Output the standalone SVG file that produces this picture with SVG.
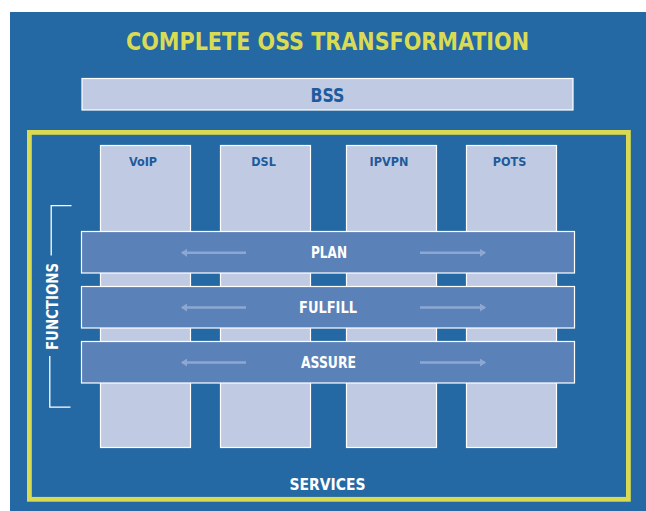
<svg xmlns="http://www.w3.org/2000/svg" width="646" height="511" viewBox="0 0 646 511">
<defs>
<style>
.bg{fill:#2469a4}
.frame{fill:none;stroke:#d9da52;stroke-width:4.8}
.col{fill:#c0cbe3;stroke:#ffffff;stroke-width:1.2}
.bar{fill:#5b82b8;stroke:#ffffff;stroke-width:1.2}
.bss{fill:#c0cbe3;stroke:#ffffff;stroke-width:1.2}
.title{font-family:"DejaVu Sans Condensed","Liberation Sans",sans-serif;font-weight:bold;font-size:24px;fill:#dadb55}
.dark{font-family:"DejaVu Sans Condensed","Liberation Sans",sans-serif;font-weight:bold;fill:#1d5b9c;text-anchor:middle}
.white{font-family:"DejaVu Sans Condensed","Liberation Sans",sans-serif;font-weight:bold;fill:#ffffff;text-anchor:middle}
.arr{stroke:#8ca7d2;stroke-width:2.6;fill:none}
.bracket{stroke:#ffffff;stroke-width:1.3;fill:none}
</style>
<marker id="ah" viewBox="0 0 6 8" refX="5" refY="4" markerWidth="6" markerHeight="8" markerUnits="userSpaceOnUse" orient="auto">
<path d="M0,0 L6,4 L0,8 Z" fill="#8ca7d2"/>
</marker>
</defs>
<rect class="bg" x="10" y="12" width="636" height="499"/>
<g id="title">
<text class="title" x="126" y="50" textLength="403" lengthAdjust="spacingAndGlyphs">COMPLETE OSS TRANSFORMATION</text>
</g>
<g id="bss">
<rect class="bss" x="82" y="78.5" width="491" height="31.5"/>
<text class="dark" x="327.5" y="102" font-size="19" textLength="34" lengthAdjust="spacingAndGlyphs">BSS</text>
</g>
<g id="services">
<rect class="frame" x="29.4" y="132.4" width="599" height="366.9"/>
<text class="white" x="327.5" y="490" font-size="15" textLength="76" lengthAdjust="spacingAndGlyphs">SERVICES</text>
</g>
<g id="col-voip">
<rect class="col" x="100.5" y="145.5" width="90" height="302"/>
<text class="dark" x="143" y="166" font-size="12.5">VoIP</text>
</g>
<g id="col-dsl">
<rect class="col" x="220.5" y="145.5" width="90" height="302"/>
<text class="dark" x="263.5" y="166" font-size="12.5">DSL</text>
</g>
<g id="col-ipvpn">
<rect class="col" x="346.5" y="145.5" width="90" height="302"/>
<text class="dark" x="389" y="166" font-size="12.5">IPVPN</text>
</g>
<g id="col-pots">
<rect class="col" x="466.5" y="145.5" width="90" height="302"/>
<text class="dark" x="509.5" y="166" font-size="12.5">POTS</text>
</g>
<g id="functions">
<path class="bracket" d="M71.5,205.7 H51.2 V255.5"/>
<path class="bracket" d="M49.8,356 V407.2 H70.5"/>
<text class="white" transform="translate(57.5,306.5) rotate(-90)" font-size="15" textLength="87" lengthAdjust="spacingAndGlyphs">FUNCTIONS</text>
</g>
<g id="plan">
<rect class="bar" x="81.5" y="231.5" width="493" height="41.5"/>
<text class="white" x="329" y="257.5" font-size="16" textLength="36" lengthAdjust="spacingAndGlyphs">PLAN</text>
</g>
<g id="fulfill">
<rect class="bar" x="81.5" y="286.5" width="493" height="41.5"/>
<text class="white" x="328" y="312.5" font-size="16" textLength="58" lengthAdjust="spacingAndGlyphs">FULFILL</text>
</g>
<g id="assure">
<rect class="bar" x="81.5" y="341.5" width="493" height="41.5"/>
<text class="white" x="328.5" y="367.5" font-size="16" textLength="55" lengthAdjust="spacingAndGlyphs">ASSURE</text>
</g>
<g id="connectors">
<line class="arr" x1="246" y1="252.8" x2="182" y2="252.8" marker-end="url(#ah)"/>
<line class="arr" x1="420" y1="252.8" x2="485" y2="252.8" marker-end="url(#ah)"/>
<line class="arr" x1="246" y1="307.5" x2="182" y2="307.5" marker-end="url(#ah)"/>
<line class="arr" x1="420" y1="307.5" x2="485" y2="307.5" marker-end="url(#ah)"/>
<line class="arr" x1="246" y1="362.5" x2="182" y2="362.5" marker-end="url(#ah)"/>
<line class="arr" x1="420" y1="362.5" x2="485" y2="362.5" marker-end="url(#ah)"/>
</g>
</svg>
